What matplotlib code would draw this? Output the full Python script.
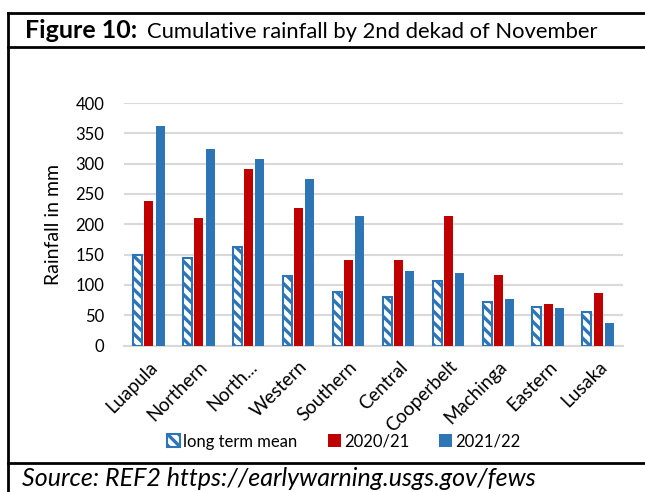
import numpy as np
import matplotlib
matplotlib.use("Agg")
import matplotlib.pyplot as plt
from matplotlib.lines import Line2D
from matplotlib.patches import Patch

# rainfall by province (mm), cumulative to 2nd dekad of November
provinces = ["Luapula", "Northern", "North...", "Western", "Southern",
             "Central", "Cooperbelt", "Machinga", "Eastern", "Lusaka"]
long_term_mean = [150, 145, 163, 114, 88, 80, 107, 72, 63, 56]
season_2020_21 = [239, 210, 291, 226, 141, 141, 214, 116, 69, 87]
season_2021_22 = [362, 324, 307, 275, 213, 123, 119, 76, 62, 37]
series_labels = ["long term mean", "2020/21", "2021/22"]
y_ticks = [0, 50, 100, 150, 200, 250, 300, 350, 400]

BLUE = "#2E75B6"
RED = "#C00000"
GRID = "#D9D9D9"

plt.rcParams["font.family"] = ["Lato", "DejaVu Sans"]
plt.rcParams["hatch.linewidth"] = 2.4

W, H = 645, 492
fig = plt.figure(figsize=(W / 100, H / 100), dpi=100)

def px(x0, y0, x1, y1):
    # pixel box (from top-left) -> figure fraction rect
    return [x0 / W, 1 - y1 / H, (x1 - x0) / W, (y1 - y0) / H]

ax = fig.add_axes(px(124, 103, 623, 345.5))

x = np.arange(len(provinces))
bw = 0.18
off = 0.225
ax.bar(x - off, long_term_mean, bw, color="white", edgecolor=BLUE,
       hatch="\\\\\\", linewidth=1.5, zorder=3)
ax.bar(x, season_2020_21, bw, color=RED, zorder=3)
ax.bar(x + off, season_2021_22, bw, color=BLUE, zorder=3)

ax.set_xlim(-0.5, len(provinces) - 0.5)
ax.set_ylim(0, 400)
ax.set_yticks(y_ticks)
ax.yaxis.grid(True, color=GRID, linewidth=1.5, zorder=0)
ax.tick_params(axis="both", length=0, colors="black")
ax.tick_params(axis="y", pad=14, labelsize=12)
for s in ["top", "right", "left"]:
    ax.spines[s].set_visible(False)
ax.spines["bottom"].set_color(GRID)
ax.spines["bottom"].set_linewidth(1.5)

ax.set_xticks(x)
ax.set_xticklabels(provinces, rotation=45, ha="right", rotation_mode="anchor")
ax.tick_params(axis="x", pad=9, labelsize=13.5)
ax.set_ylabel("Rainfall in mm", fontsize=14, labelpad=10)

handles = [Patch(facecolor="white", edgecolor=BLUE, hatch="\\\\\\", linewidth=1.5),
           Patch(facecolor=RED), Patch(facecolor=BLUE)]
fig.legend(handles, series_labels, loc="center",
           bbox_to_anchor=(344 / W, 1 - 441.5 / H), ncol=3, frameon=False,
           fontsize=12, handlelength=0.78, handleheight=0.78,
           handletextpad=0.2, columnspacing=1.8)

# title row
fig.text(25 / W, 1 - 31 / H, "Figure 10:", fontsize=18, fontweight="bold",
         va="center", ha="left")
fig.text(147 / W, 1 - 31.5 / H, "Cumulative rainfall by 2nd dekad of November",
         fontsize=15.8, va="center", ha="left")

# source row at the foot of the frame
fig.text(22 / W, 1 - 485.5 / H, "Source: REF2 https://earlywarning.usgs.gov/fews",
         fontsize=18, style="italic", va="baseline", ha="left")

# table-like frame around the figure
lw = 2.0
for (x0, y0, x1, y1) in [(8, 13, 645, 13), (8, 47, 645, 47),
                         (8, 463, 645, 463), (8, 13, 8, 492)]:
    fig.add_artist(Line2D([x0 / W, x1 / W], [1 - y0 / H, 1 - y1 / H],
                          color="black", linewidth=lw))

fig.savefig("out.png", dpi=100)
